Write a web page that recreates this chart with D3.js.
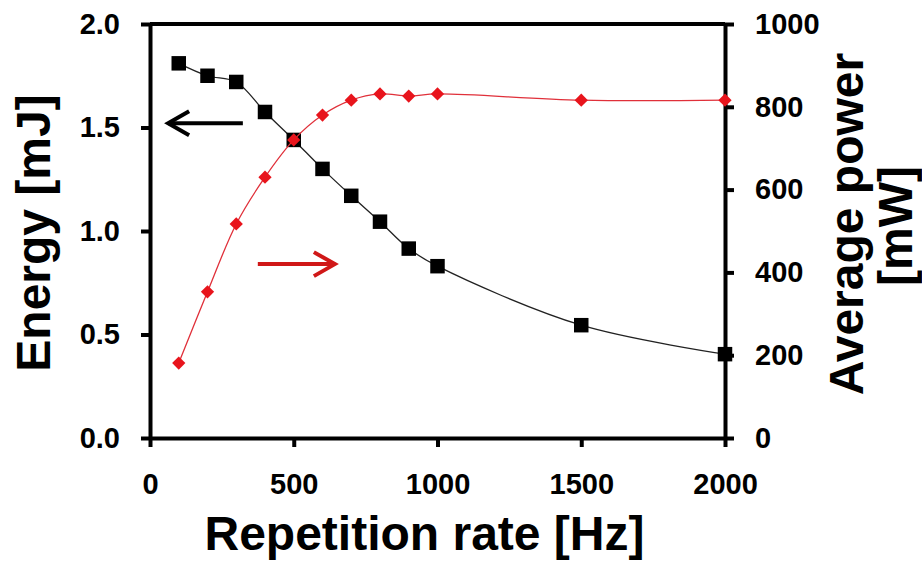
<!DOCTYPE html>
<html>
<head>
<meta charset="utf-8">
<script src="https://cdn.jsdelivr.net/npm/d3@7/dist/d3.min.js"></script>
<style>
  html, body { margin: 0; padding: 0; background: #fff; }
  svg { display: block; }
  text { font-family: "Liberation Sans", Arial, sans-serif; font-weight: bold; fill: #000; }
</style>
</head>
<body>
<svg id="chart" width="922" height="563"></svg>
<script>
// ---- data ----
const rates = [100, 200, 300, 400, 500, 600, 700, 800, 900, 1000, 1500, 2000];
const energy = [1.81, 1.75, 1.72, 1.575, 1.44, 1.30, 1.17, 1.045, 0.915, 0.83, 0.545, 0.405];
const power = [181, 353, 517, 630, 720, 780, 816, 831, 826, 831, 816, 816];
const xTicks = [0, 500, 1000, 1500, 2000];
const yLeftTicks = [0.0, 0.5, 1.0, 1.5, 2.0];
const yRightTicks = [0, 200, 400, 600, 800, 1000];

// ---- layout ----
const svg = d3.select("#chart");
const L = 150, R = 725, T = 24, B = 438;

const x = d3.scaleLinear().domain([0, 2000]).range([L, R]);
const yE = d3.scaleLinear().domain([0, 2]).range([B, T]);
const yP = d3.scaleLinear().domain([0, 1000]).range([B, T]);

// frame top line
svg.append("line").attr("x1", L).attr("x2", R).attr("y1", T).attr("y2", T)
  .attr("stroke", "#000").attr("stroke-width", 4);

// axes
function styleAxis(g) {
  g.select(".domain").attr("stroke", "#000").attr("stroke-width", 4);
  g.selectAll(".tick line").attr("stroke", "#000").attr("stroke-width", 4);
  g.selectAll(".tick text").style("font-size", "29px").style("font-weight", "bold")
    .style("font-family", "'Liberation Sans', Arial, sans-serif").attr("fill", "#000");
}

const gx = svg.append("g").attr("transform", `translate(0,${B})`)
  .call(d3.axisBottom(x).tickValues(xTicks).tickFormat(d3.format("d")).tickSize(9).tickSizeOuter(0).tickPadding(26));
styleAxis(gx);

const gl = svg.append("g").attr("transform", `translate(${L},0)`)
  .call(d3.axisLeft(yE).tickValues(yLeftTicks).tickFormat(d3.format(".1f")).tickSize(9).tickSizeOuter(0).tickPadding(21));
styleAxis(gl);

const gr = svg.append("g").attr("transform", `translate(${R},0)`)
  .call(d3.axisRight(yP).tickValues(yRightTicks).tickFormat(d3.format("d")).tickSize(9).tickSizeOuter(0).tickPadding(21));
styleAxis(gr);

// series lines
const lineE = d3.line().x((d, i) => x(rates[i])).y(d => yE(d)).curve(d3.curveCatmullRom.alpha(0.5));
const lineP = d3.line().x((d, i) => x(rates[i])).y(d => yP(d)).curve(d3.curveCatmullRom.alpha(0.5));

svg.append("path").datum(energy).attr("d", lineE)
  .attr("fill", "none").attr("stroke", "#222").attr("stroke-width", 1.3);

svg.append("g").selectAll("path").data(energy).join("path")
  .attr("d", d3.symbol(d3.symbolSquare, 210))
  .attr("transform", (d, i) => `translate(${x(rates[i])},${yE(d)})`)
  .attr("fill", "#000");

svg.append("path").datum(power).attr("d", lineP)
  .attr("fill", "none").attr("stroke", "#e0303a").attr("stroke-width", 1.3);

svg.append("g").selectAll("path").data(power).join("path")
  .attr("d", d3.symbol(d3.symbolSquare, 88))
  .attr("transform", (d, i) => `translate(${x(rates[i])},${yP(d)}) rotate(45)`)
  .attr("fill", "#e8141c");

// arrows (annotations)
function arrow(x1, x2, y, color) {
  const dir = Math.sign(x2 - x1);
  svg.append("line").attr("x1", x1).attr("x2", x2).attr("y1", y).attr("y2", y)
    .attr("stroke", color).attr("stroke-width", 4);
  svg.append("path")
    .attr("d", `M${x2 - dir * 21},${y - 12} L${x2},${y} L${x2 - dir * 21},${y + 12}`)
    .attr("fill", "none").attr("stroke", color).attr("stroke-width", 4)
    .attr("stroke-linejoin", "miter");
}
arrow(x(323), x(63), yE(1.52), "#000");
arrow(x(375), x(643), yP(420), "#d01818");

// axis titles
svg.append("text").attr("x", (L + R) / 2 - 13).attr("y", 550)
  .attr("text-anchor", "middle").style("font-size", "48px").text("Repetition rate [Hz]");

svg.append("text").attr("transform", "translate(50,233) rotate(-90)")
  .attr("text-anchor", "middle").style("font-size", "48px").text("Energy [mJ]");

svg.append("text").attr("transform", "translate(863,224) rotate(-90)")
  .attr("text-anchor", "middle").style("font-size", "48px").text("Average power");
svg.append("text").attr("transform", "translate(912,226) rotate(-90)")
  .attr("text-anchor", "middle").style("font-size", "48px").text("[mW]");
</script>
</body>
</html>
